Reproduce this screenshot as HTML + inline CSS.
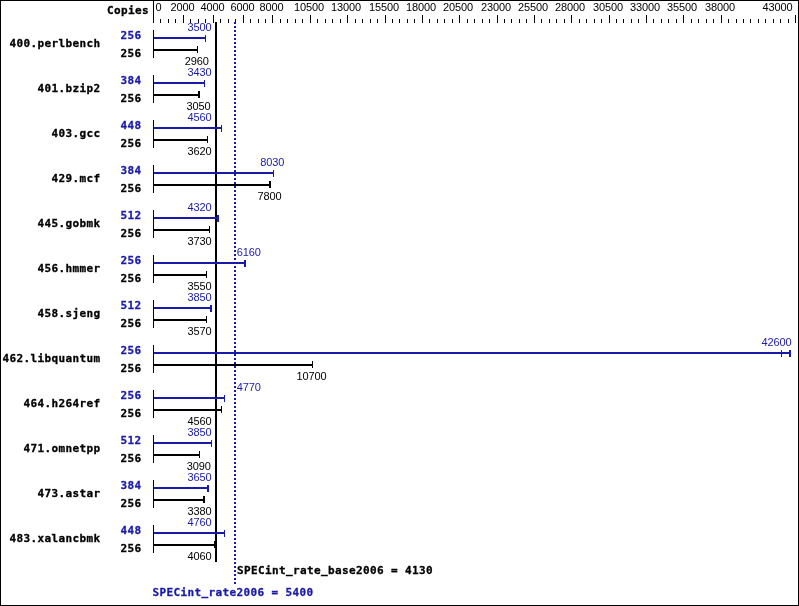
<!DOCTYPE html>
<html lang="en"><head><meta charset="utf-8"><title>SPECint_rate2006 results</title>
<style>
html,body{margin:0;padding:0;background:#fff;}
body{width:799px;height:606px;overflow:hidden;}
svg{display:block;will-change:transform;}
.m{font-family:'DejaVu Sans Mono','Liberation Mono',monospace;font-weight:bold;font-size:11px;letter-spacing:0.378px;}
.s{font-family:'Liberation Sans','DejaVu Sans',sans-serif;font-size:11px;letter-spacing:-0.117px;}
.b{fill:#1a1aaa;}
.k{fill:#000;}
.m.k{stroke:#000;stroke-width:0.3px;}
.m.b{stroke:#1a1aaa;stroke-width:0.3px;}
</style></head><body>
<svg width="799" height="606" viewBox="0 0 799 606">
<rect x="0" y="0" width="799" height="606" fill="#fff"/>
<g shape-rendering="crispEdges">
<rect x="0" y="0" width="799" height="1" class="k"/>
<rect x="0" y="605" width="799" height="1" class="k"/>
<rect x="0" y="0" width="1" height="606" class="k"/>
<rect x="798" y="0" width="1" height="606" class="k"/>
<rect x="153" y="0" width="1" height="23" class="k"/>
<rect x="160" y="19" width="1" height="4" class="k"/>
<rect x="168" y="19" width="1" height="4" class="k"/>
<rect x="175" y="19" width="1" height="4" class="k"/>
<rect x="183" y="15" width="1" height="8" class="k"/>
<rect x="190" y="19" width="1" height="4" class="k"/>
<rect x="198" y="19" width="1" height="4" class="k"/>
<rect x="205" y="19" width="1" height="4" class="k"/>
<rect x="213" y="15" width="1" height="8" class="k"/>
<rect x="220" y="19" width="1" height="4" class="k"/>
<rect x="228" y="19" width="1" height="4" class="k"/>
<rect x="235" y="19" width="1" height="4" class="k"/>
<rect x="243" y="15" width="1" height="8" class="k"/>
<rect x="250" y="19" width="1" height="4" class="k"/>
<rect x="258" y="19" width="1" height="4" class="k"/>
<rect x="265" y="19" width="1" height="4" class="k"/>
<rect x="272" y="15" width="1" height="8" class="k"/>
<rect x="280" y="19" width="1" height="4" class="k"/>
<rect x="287" y="19" width="1" height="4" class="k"/>
<rect x="295" y="19" width="1" height="4" class="k"/>
<rect x="302" y="19" width="1" height="4" class="k"/>
<rect x="310" y="15" width="1" height="8" class="k"/>
<rect x="317" y="19" width="1" height="4" class="k"/>
<rect x="325" y="19" width="1" height="4" class="k"/>
<rect x="332" y="19" width="1" height="4" class="k"/>
<rect x="340" y="19" width="1" height="4" class="k"/>
<rect x="347" y="15" width="1" height="8" class="k"/>
<rect x="355" y="19" width="1" height="4" class="k"/>
<rect x="362" y="19" width="1" height="4" class="k"/>
<rect x="370" y="19" width="1" height="4" class="k"/>
<rect x="377" y="19" width="1" height="4" class="k"/>
<rect x="385" y="15" width="1" height="8" class="k"/>
<rect x="392" y="19" width="1" height="4" class="k"/>
<rect x="399" y="19" width="1" height="4" class="k"/>
<rect x="407" y="19" width="1" height="4" class="k"/>
<rect x="414" y="19" width="1" height="4" class="k"/>
<rect x="422" y="15" width="1" height="8" class="k"/>
<rect x="429" y="19" width="1" height="4" class="k"/>
<rect x="437" y="19" width="1" height="4" class="k"/>
<rect x="444" y="19" width="1" height="4" class="k"/>
<rect x="452" y="19" width="1" height="4" class="k"/>
<rect x="459" y="15" width="1" height="8" class="k"/>
<rect x="467" y="19" width="1" height="4" class="k"/>
<rect x="474" y="19" width="1" height="4" class="k"/>
<rect x="482" y="19" width="1" height="4" class="k"/>
<rect x="489" y="19" width="1" height="4" class="k"/>
<rect x="497" y="15" width="1" height="8" class="k"/>
<rect x="504" y="19" width="1" height="4" class="k"/>
<rect x="511" y="19" width="1" height="4" class="k"/>
<rect x="519" y="19" width="1" height="4" class="k"/>
<rect x="526" y="19" width="1" height="4" class="k"/>
<rect x="534" y="15" width="1" height="8" class="k"/>
<rect x="541" y="19" width="1" height="4" class="k"/>
<rect x="549" y="19" width="1" height="4" class="k"/>
<rect x="556" y="19" width="1" height="4" class="k"/>
<rect x="564" y="19" width="1" height="4" class="k"/>
<rect x="571" y="15" width="1" height="8" class="k"/>
<rect x="579" y="19" width="1" height="4" class="k"/>
<rect x="586" y="19" width="1" height="4" class="k"/>
<rect x="594" y="19" width="1" height="4" class="k"/>
<rect x="601" y="19" width="1" height="4" class="k"/>
<rect x="609" y="15" width="1" height="8" class="k"/>
<rect x="616" y="19" width="1" height="4" class="k"/>
<rect x="623" y="19" width="1" height="4" class="k"/>
<rect x="631" y="19" width="1" height="4" class="k"/>
<rect x="638" y="19" width="1" height="4" class="k"/>
<rect x="646" y="15" width="1" height="8" class="k"/>
<rect x="653" y="19" width="1" height="4" class="k"/>
<rect x="661" y="19" width="1" height="4" class="k"/>
<rect x="668" y="19" width="1" height="4" class="k"/>
<rect x="676" y="19" width="1" height="4" class="k"/>
<rect x="683" y="15" width="1" height="8" class="k"/>
<rect x="691" y="19" width="1" height="4" class="k"/>
<rect x="698" y="19" width="1" height="4" class="k"/>
<rect x="706" y="19" width="1" height="4" class="k"/>
<rect x="713" y="19" width="1" height="4" class="k"/>
<rect x="721" y="15" width="1" height="8" class="k"/>
<rect x="728" y="19" width="1" height="4" class="k"/>
<rect x="736" y="19" width="1" height="4" class="k"/>
<rect x="743" y="19" width="1" height="4" class="k"/>
<rect x="750" y="19" width="1" height="4" class="k"/>
<rect x="758" y="19" width="1" height="4" class="k"/>
<rect x="765" y="19" width="1" height="4" class="k"/>
<rect x="773" y="19" width="1" height="4" class="k"/>
<rect x="780" y="19" width="1" height="4" class="k"/>
<rect x="788" y="19" width="1" height="4" class="k"/>
<rect x="795" y="15" width="1" height="8" class="k"/>
<rect x="215" y="22" width="2" height="540" class="k"/>
<rect x="234" y="22" width="2" height="2" class="b"/>
<rect x="234" y="26" width="2" height="2" class="b"/>
<rect x="234" y="30" width="2" height="2" class="b"/>
<rect x="234" y="34" width="2" height="2" class="b"/>
<rect x="234" y="38" width="2" height="2" class="b"/>
<rect x="234" y="42" width="2" height="2" class="b"/>
<rect x="234" y="46" width="2" height="2" class="b"/>
<rect x="234" y="50" width="2" height="2" class="b"/>
<rect x="234" y="54" width="2" height="2" class="b"/>
<rect x="234" y="58" width="2" height="2" class="b"/>
<rect x="234" y="62" width="2" height="2" class="b"/>
<rect x="234" y="66" width="2" height="2" class="b"/>
<rect x="234" y="70" width="2" height="2" class="b"/>
<rect x="234" y="74" width="2" height="2" class="b"/>
<rect x="234" y="78" width="2" height="2" class="b"/>
<rect x="234" y="82" width="2" height="2" class="b"/>
<rect x="234" y="86" width="2" height="2" class="b"/>
<rect x="234" y="90" width="2" height="2" class="b"/>
<rect x="234" y="94" width="2" height="2" class="b"/>
<rect x="234" y="98" width="2" height="2" class="b"/>
<rect x="234" y="102" width="2" height="2" class="b"/>
<rect x="234" y="106" width="2" height="2" class="b"/>
<rect x="234" y="110" width="2" height="2" class="b"/>
<rect x="234" y="114" width="2" height="2" class="b"/>
<rect x="234" y="118" width="2" height="2" class="b"/>
<rect x="234" y="122" width="2" height="2" class="b"/>
<rect x="234" y="126" width="2" height="2" class="b"/>
<rect x="234" y="130" width="2" height="2" class="b"/>
<rect x="234" y="134" width="2" height="2" class="b"/>
<rect x="234" y="138" width="2" height="2" class="b"/>
<rect x="234" y="142" width="2" height="2" class="b"/>
<rect x="234" y="146" width="2" height="2" class="b"/>
<rect x="234" y="150" width="2" height="2" class="b"/>
<rect x="234" y="154" width="2" height="2" class="b"/>
<rect x="234" y="158" width="2" height="2" class="b"/>
<rect x="234" y="162" width="2" height="2" class="b"/>
<rect x="234" y="166" width="2" height="2" class="b"/>
<rect x="234" y="170" width="2" height="2" class="b"/>
<rect x="234" y="174" width="2" height="2" class="b"/>
<rect x="234" y="178" width="2" height="2" class="b"/>
<rect x="234" y="182" width="2" height="2" class="b"/>
<rect x="234" y="186" width="2" height="2" class="b"/>
<rect x="234" y="190" width="2" height="2" class="b"/>
<rect x="234" y="194" width="2" height="2" class="b"/>
<rect x="234" y="198" width="2" height="2" class="b"/>
<rect x="234" y="202" width="2" height="2" class="b"/>
<rect x="234" y="206" width="2" height="2" class="b"/>
<rect x="234" y="210" width="2" height="2" class="b"/>
<rect x="234" y="214" width="2" height="2" class="b"/>
<rect x="234" y="218" width="2" height="2" class="b"/>
<rect x="234" y="222" width="2" height="2" class="b"/>
<rect x="234" y="226" width="2" height="2" class="b"/>
<rect x="234" y="230" width="2" height="2" class="b"/>
<rect x="234" y="234" width="2" height="2" class="b"/>
<rect x="234" y="238" width="2" height="2" class="b"/>
<rect x="234" y="242" width="2" height="2" class="b"/>
<rect x="234" y="246" width="2" height="2" class="b"/>
<rect x="234" y="250" width="2" height="2" class="b"/>
<rect x="234" y="254" width="2" height="2" class="b"/>
<rect x="234" y="258" width="2" height="2" class="b"/>
<rect x="234" y="262" width="2" height="2" class="b"/>
<rect x="234" y="266" width="2" height="2" class="b"/>
<rect x="234" y="270" width="2" height="2" class="b"/>
<rect x="234" y="274" width="2" height="2" class="b"/>
<rect x="234" y="278" width="2" height="2" class="b"/>
<rect x="234" y="282" width="2" height="2" class="b"/>
<rect x="234" y="286" width="2" height="2" class="b"/>
<rect x="234" y="290" width="2" height="2" class="b"/>
<rect x="234" y="294" width="2" height="2" class="b"/>
<rect x="234" y="298" width="2" height="2" class="b"/>
<rect x="234" y="302" width="2" height="2" class="b"/>
<rect x="234" y="306" width="2" height="2" class="b"/>
<rect x="234" y="310" width="2" height="2" class="b"/>
<rect x="234" y="314" width="2" height="2" class="b"/>
<rect x="234" y="318" width="2" height="2" class="b"/>
<rect x="234" y="322" width="2" height="2" class="b"/>
<rect x="234" y="326" width="2" height="2" class="b"/>
<rect x="234" y="330" width="2" height="2" class="b"/>
<rect x="234" y="334" width="2" height="2" class="b"/>
<rect x="234" y="338" width="2" height="2" class="b"/>
<rect x="234" y="342" width="2" height="2" class="b"/>
<rect x="234" y="346" width="2" height="2" class="b"/>
<rect x="234" y="350" width="2" height="2" class="b"/>
<rect x="234" y="354" width="2" height="2" class="b"/>
<rect x="234" y="358" width="2" height="2" class="b"/>
<rect x="234" y="362" width="2" height="2" class="b"/>
<rect x="234" y="366" width="2" height="2" class="b"/>
<rect x="234" y="370" width="2" height="2" class="b"/>
<rect x="234" y="374" width="2" height="2" class="b"/>
<rect x="234" y="378" width="2" height="2" class="b"/>
<rect x="234" y="382" width="2" height="2" class="b"/>
<rect x="234" y="386" width="2" height="2" class="b"/>
<rect x="234" y="390" width="2" height="2" class="b"/>
<rect x="234" y="394" width="2" height="2" class="b"/>
<rect x="234" y="398" width="2" height="2" class="b"/>
<rect x="234" y="402" width="2" height="2" class="b"/>
<rect x="234" y="406" width="2" height="2" class="b"/>
<rect x="234" y="410" width="2" height="2" class="b"/>
<rect x="234" y="414" width="2" height="2" class="b"/>
<rect x="234" y="418" width="2" height="2" class="b"/>
<rect x="234" y="422" width="2" height="2" class="b"/>
<rect x="234" y="426" width="2" height="2" class="b"/>
<rect x="234" y="430" width="2" height="2" class="b"/>
<rect x="234" y="434" width="2" height="2" class="b"/>
<rect x="234" y="438" width="2" height="2" class="b"/>
<rect x="234" y="442" width="2" height="2" class="b"/>
<rect x="234" y="446" width="2" height="2" class="b"/>
<rect x="234" y="450" width="2" height="2" class="b"/>
<rect x="234" y="454" width="2" height="2" class="b"/>
<rect x="234" y="458" width="2" height="2" class="b"/>
<rect x="234" y="462" width="2" height="2" class="b"/>
<rect x="234" y="466" width="2" height="2" class="b"/>
<rect x="234" y="470" width="2" height="2" class="b"/>
<rect x="234" y="474" width="2" height="2" class="b"/>
<rect x="234" y="478" width="2" height="2" class="b"/>
<rect x="234" y="482" width="2" height="2" class="b"/>
<rect x="234" y="486" width="2" height="2" class="b"/>
<rect x="234" y="490" width="2" height="2" class="b"/>
<rect x="234" y="494" width="2" height="2" class="b"/>
<rect x="234" y="498" width="2" height="2" class="b"/>
<rect x="234" y="502" width="2" height="2" class="b"/>
<rect x="234" y="506" width="2" height="2" class="b"/>
<rect x="234" y="510" width="2" height="2" class="b"/>
<rect x="234" y="514" width="2" height="2" class="b"/>
<rect x="234" y="518" width="2" height="2" class="b"/>
<rect x="234" y="522" width="2" height="2" class="b"/>
<rect x="234" y="526" width="2" height="2" class="b"/>
<rect x="234" y="530" width="2" height="2" class="b"/>
<rect x="234" y="534" width="2" height="2" class="b"/>
<rect x="234" y="538" width="2" height="2" class="b"/>
<rect x="234" y="542" width="2" height="2" class="b"/>
<rect x="234" y="546" width="2" height="2" class="b"/>
<rect x="234" y="550" width="2" height="2" class="b"/>
<rect x="234" y="554" width="2" height="2" class="b"/>
<rect x="234" y="558" width="2" height="2" class="b"/>
<rect x="234" y="562" width="2" height="2" class="b"/>
<rect x="234" y="566" width="2" height="2" class="b"/>
<rect x="234" y="570" width="2" height="2" class="b"/>
<rect x="234" y="574" width="2" height="2" class="b"/>
<rect x="234" y="578" width="2" height="2" class="b"/>
<rect x="234" y="582" width="2" height="2" class="b"/>
<rect x="153" y="30" width="1" height="28" class="k"/>
<rect x="154" y="37" width="52" height="2" class="b"/>
<rect x="205" y="35" width="1" height="7" class="b"/>
<rect x="154" y="49" width="44" height="2" class="k"/>
<rect x="197" y="46" width="1" height="7" class="k"/>
<rect x="153" y="75" width="1" height="28" class="k"/>
<rect x="154" y="82" width="51" height="2" class="b"/>
<rect x="204" y="80" width="1" height="7" class="b"/>
<rect x="154" y="94" width="46" height="2" class="k"/>
<rect x="198" y="91" width="2" height="7" class="k"/>
<rect x="153" y="120" width="1" height="28" class="k"/>
<rect x="154" y="127" width="68" height="2" class="b"/>
<rect x="221" y="125" width="1" height="7" class="b"/>
<rect x="154" y="139" width="54" height="2" class="k"/>
<rect x="207" y="136" width="1" height="7" class="k"/>
<rect x="153" y="165" width="1" height="28" class="k"/>
<rect x="154" y="172" width="120" height="2" class="b"/>
<rect x="273" y="170" width="1" height="7" class="b"/>
<rect x="154" y="184" width="117" height="2" class="k"/>
<rect x="269" y="181" width="2" height="7" class="k"/>
<rect x="153" y="210" width="1" height="28" class="k"/>
<rect x="154" y="217" width="65" height="2" class="b"/>
<rect x="217" y="215" width="2" height="7" class="b"/>
<rect x="154" y="229" width="56" height="2" class="k"/>
<rect x="209" y="226" width="1" height="7" class="k"/>
<rect x="153" y="255" width="1" height="28" class="k"/>
<rect x="154" y="262" width="92" height="2" class="b"/>
<rect x="244" y="260" width="2" height="7" class="b"/>
<rect x="154" y="274" width="53" height="2" class="k"/>
<rect x="206" y="271" width="1" height="7" class="k"/>
<rect x="153" y="300" width="1" height="28" class="k"/>
<rect x="154" y="307" width="58" height="2" class="b"/>
<rect x="210" y="305" width="2" height="7" class="b"/>
<rect x="154" y="319" width="53" height="2" class="k"/>
<rect x="206" y="316" width="1" height="7" class="k"/>
<rect x="153" y="345" width="1" height="28" class="k"/>
<rect x="154" y="352" width="637" height="2" class="b"/>
<rect x="781" y="350" width="1" height="7" class="b"/>
<rect x="789" y="350" width="2" height="7" class="b"/>
<rect x="154" y="364" width="159" height="2" class="k"/>
<rect x="312" y="361" width="1" height="7" class="k"/>
<rect x="153" y="390" width="1" height="28" class="k"/>
<rect x="154" y="397" width="71" height="2" class="b"/>
<rect x="224" y="395" width="1" height="7" class="b"/>
<rect x="154" y="409" width="68" height="2" class="k"/>
<rect x="221" y="406" width="1" height="7" class="k"/>
<rect x="153" y="435" width="1" height="28" class="k"/>
<rect x="154" y="442" width="58" height="2" class="b"/>
<rect x="211" y="440" width="1" height="7" class="b"/>
<rect x="154" y="454" width="46" height="2" class="k"/>
<rect x="199" y="451" width="1" height="7" class="k"/>
<rect x="153" y="480" width="1" height="28" class="k"/>
<rect x="154" y="487" width="55" height="2" class="b"/>
<rect x="207" y="485" width="2" height="7" class="b"/>
<rect x="154" y="499" width="51" height="2" class="k"/>
<rect x="203" y="496" width="2" height="7" class="k"/>
<rect x="153" y="525" width="1" height="28" class="k"/>
<rect x="154" y="532" width="71" height="2" class="b"/>
<rect x="224" y="530" width="1" height="7" class="b"/>
<rect x="154" y="544" width="62" height="2" class="k"/>
<rect x="214" y="541" width="2" height="7" class="k"/>
</g>
<g class="s k" text-anchor="middle">
<text x="158.6" y="11">0</text>
<text x="182.4" y="11">2000</text>
<text x="212.4" y="11">4000</text>
<text x="242.4" y="11">6000</text>
<text x="271.4" y="11">8000</text>
<text x="309.0" y="11">10500</text>
<text x="346.0" y="11">13000</text>
<text x="384.0" y="11">15500</text>
<text x="421.0" y="11">18000</text>
<text x="458.0" y="11">20500</text>
<text x="496.0" y="11">23000</text>
<text x="533.0" y="11">25500</text>
<text x="570.0" y="11">28000</text>
<text x="608.0" y="11">30500</text>
<text x="645.0" y="11">33000</text>
<text x="682.0" y="11">35500</text>
<text x="720.0" y="11">38000</text>
<text x="777.6" y="11">43000</text>
</g>
<text class="m k" x="107" y="14">Copies</text>
<text class="m k" text-anchor="end" x="100.5" y="47">400.perlbench</text>
<text class="m b" x="120.5" y="39">256</text>
<text class="m k" x="120.5" y="57">256</text>
<text class="s b" text-anchor="middle" x="199.5" y="31">3500</text>
<text class="s k" text-anchor="middle" x="196.7" y="65">2960</text>
<text class="m k" text-anchor="end" x="100.5" y="92">401.bzip2</text>
<text class="m b" x="120.5" y="84">384</text>
<text class="m k" x="120.5" y="102">256</text>
<text class="s b" text-anchor="middle" x="199.5" y="76">3430</text>
<text class="s k" text-anchor="middle" x="198.5" y="110">3050</text>
<text class="m k" text-anchor="end" x="100.5" y="137">403.gcc</text>
<text class="m b" x="120.5" y="129">448</text>
<text class="m k" x="120.5" y="147">256</text>
<text class="s b" text-anchor="middle" x="199.5" y="121">4560</text>
<text class="s k" text-anchor="middle" x="199.5" y="155">3620</text>
<text class="m k" text-anchor="end" x="100.5" y="182">429.mcf</text>
<text class="m b" x="120.5" y="174">384</text>
<text class="m k" x="120.5" y="192">256</text>
<text class="s b" text-anchor="middle" x="272.2" y="166">8030</text>
<text class="s k" text-anchor="middle" x="269.6" y="200">7800</text>
<text class="m k" text-anchor="end" x="100.5" y="227">445.gobmk</text>
<text class="m b" x="120.5" y="219">512</text>
<text class="m k" x="120.5" y="237">256</text>
<text class="s b" text-anchor="middle" x="199.5" y="211">4320</text>
<text class="s k" text-anchor="middle" x="199.5" y="245">3730</text>
<text class="m k" text-anchor="end" x="100.5" y="272">456.hmmer</text>
<text class="m b" x="120.5" y="264">256</text>
<text class="m k" x="120.5" y="282">256</text>
<text class="s b" text-anchor="middle" x="248.7" y="256">6160</text>
<text class="s k" text-anchor="middle" x="199.5" y="290">3550</text>
<text class="m k" text-anchor="end" x="100.5" y="317">458.sjeng</text>
<text class="m b" x="120.5" y="309">512</text>
<text class="m k" x="120.5" y="327">256</text>
<text class="s b" text-anchor="middle" x="199.5" y="301">3850</text>
<text class="s k" text-anchor="middle" x="199.5" y="335">3570</text>
<text class="m k" text-anchor="end" x="100.5" y="362">462.libquantum</text>
<text class="m b" x="120.5" y="354">256</text>
<text class="m k" x="120.5" y="372">256</text>
<text class="s b" text-anchor="middle" x="776.6" y="346">42600</text>
<text class="s k" text-anchor="middle" x="311.4" y="380">10700</text>
<text class="m k" text-anchor="end" x="100.5" y="407">464.h264ref</text>
<text class="m b" x="120.5" y="399">256</text>
<text class="m k" x="120.5" y="417">256</text>
<text class="s b" text-anchor="middle" x="248.7" y="391">4770</text>
<text class="s k" text-anchor="middle" x="199.5" y="425">4560</text>
<text class="m k" text-anchor="end" x="100.5" y="452">471.omnetpp</text>
<text class="m b" x="120.5" y="444">512</text>
<text class="m k" x="120.5" y="462">256</text>
<text class="s b" text-anchor="middle" x="199.5" y="436">3850</text>
<text class="s k" text-anchor="middle" x="198.7" y="470">3090</text>
<text class="m k" text-anchor="end" x="100.5" y="497">473.astar</text>
<text class="m b" x="120.5" y="489">384</text>
<text class="m k" x="120.5" y="507">256</text>
<text class="s b" text-anchor="middle" x="199.5" y="481">3650</text>
<text class="s k" text-anchor="middle" x="199.5" y="515">3380</text>
<text class="m k" text-anchor="end" x="100.5" y="542">483.xalancbmk</text>
<text class="m b" x="120.5" y="534">448</text>
<text class="m k" x="120.5" y="552">256</text>
<text class="s b" text-anchor="middle" x="199.5" y="526">4760</text>
<text class="s k" text-anchor="middle" x="199.5" y="560">4060</text>
<text class="m k" x="237" y="574">SPECint<tspan dy="-1.5">_</tspan><tspan dy="1.5">r</tspan>ate<tspan dy="-1.5">_</tspan><tspan dy="1.5">b</tspan>ase2006 = 4130</text>
<text class="m b" x="152.5" y="596">SPECint<tspan dy="-1.5">_</tspan><tspan dy="1.5">r</tspan>ate2006 = 5400</text>
</svg>
</body></html>
